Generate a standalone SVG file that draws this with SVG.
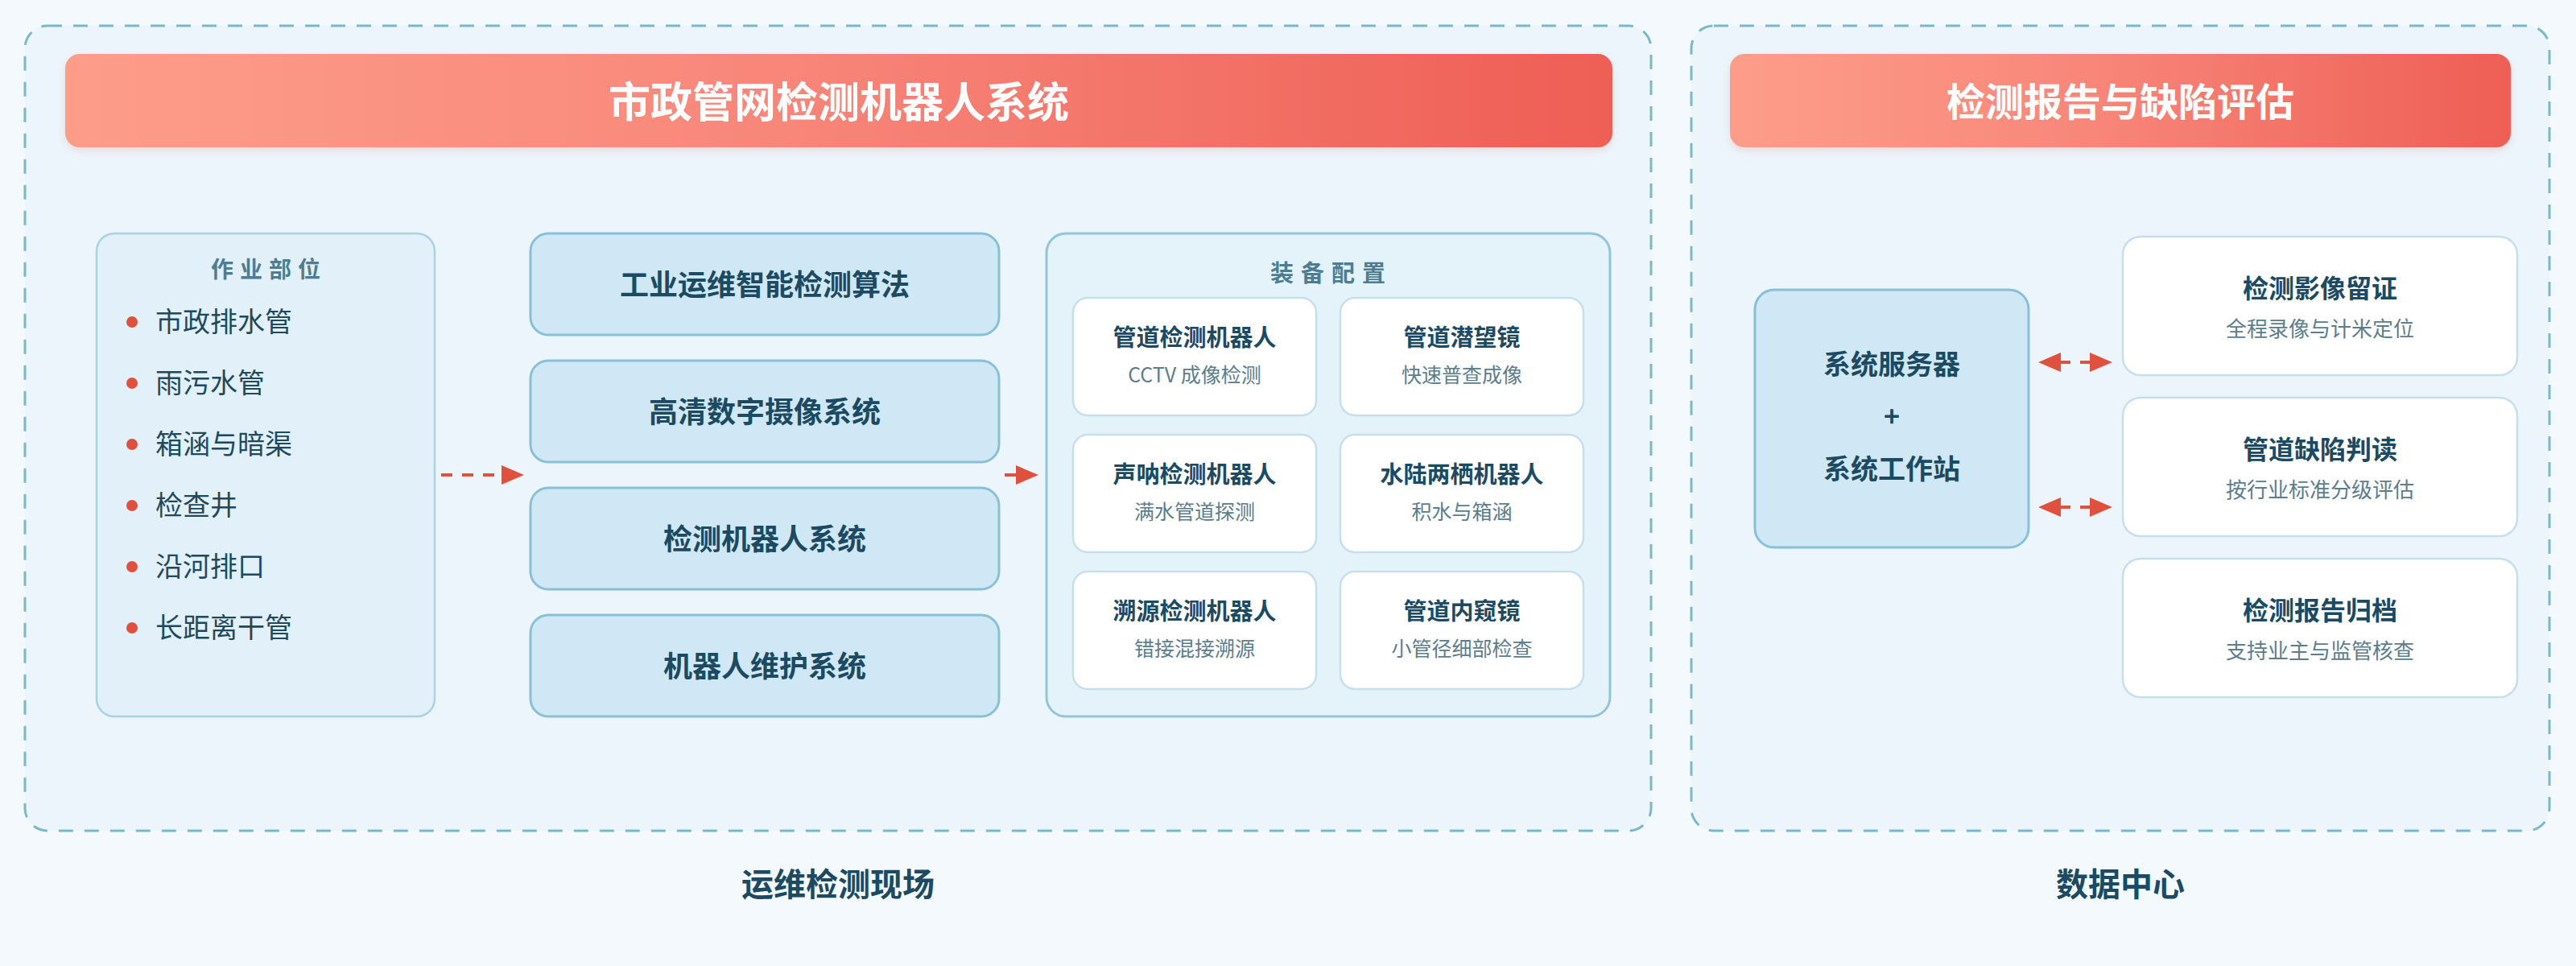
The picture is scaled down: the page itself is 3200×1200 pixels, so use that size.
<svg xmlns="http://www.w3.org/2000/svg" width="3200" height="1200" viewBox="0 0 3200 1200">
  <defs>
    <linearGradient id="bannerGrad" x1="0" y1="0" x2="1" y2="0">
      <stop offset="0" stop-color="#fd9d89"/>
      <stop offset="0.45" stop-color="#f8877a"/>
      <stop offset="1" stop-color="#ee5e55"/>
    </linearGradient>
    <filter id="softShadow" x="-5%" y="-20%" width="110%" height="150%">
      <feDropShadow dx="0" dy="4" stdDeviation="4" flood-color="#d06050" flood-opacity="0.18"/>
    </filter>
    <marker id="arrowHead" viewBox="0 0 28 24" markerWidth="28" markerHeight="24" refX="22" refY="12" orient="auto-start-reverse" markerUnits="userSpaceOnUse">
      <path d="M0,0 L28,12 L0,24 z" fill="#e0503f"/>
    </marker>
    <style>
      text { font-family: "Noto Sans CJK SC", "Noto Sans", sans-serif; }
      .container { fill: #ecf5fb; stroke: #7bb8c8; stroke-width: 3; stroke-dasharray: 18 14; }
      .banner { fill: url(#bannerGrad); filter: url(#softShadow); }
      .bannerText { fill: #ffffff; font-weight: 700; text-anchor: middle; dominant-baseline: central; }
      .panel { fill: #e2f0fa; stroke: #a9d2e3; stroke-width: 2.5; }
      .equipPanel { fill: #e4f2fa; stroke: #92c5d9; stroke-width: 3; }
      .sysBox { fill: #d0e8f6; stroke: #88c0d8; stroke-width: 3; }
      .card { fill: #ffffff; stroke: #c6dfeb; stroke-width: 2.5; }
      .heading { fill: #4d7d92; font-weight: 700; text-anchor: middle; dominant-baseline: central; }
      .boldText { fill: #1b4a62; font-weight: 700; text-anchor: middle; dominant-baseline: central; }
      .subText { fill: #5b7d8c; font-weight: 400; text-anchor: middle; dominant-baseline: central; }
      .itemText { fill: #1e4a60; font-weight: 400; dominant-baseline: central; font-size: 34px; }
      .bullet { fill: #e0503f; }
      .conn { stroke: #e0503f; stroke-width: 4; fill: none; marker-end: url(#arrowHead); }
      .label { fill: #1b4a62; font-weight: 700; text-anchor: middle; dominant-baseline: central; font-size: 40px; }
    </style>
  </defs>

  <rect x="0" y="0" width="3200" height="1200" fill="#f3f9fc"/>

  <!-- Containers -->
  <g id="site-container">
    <rect class="container" x="31" y="32" width="2020" height="1000" rx="28"/>
    <rect class="banner" x="81" y="67" width="1922" height="116" rx="18"/>
    <text class="bannerText" x="1042" y="123" font-size="52">市政管网检测机器人系统</text>
    <text class="label" x="1041" y="1096">运维检测现场</text>
  </g>

  <g id="data-container">
    <rect class="container" x="2101" y="32" width="1066" height="1000" rx="28"/>
    <rect class="banner" x="2149" y="67" width="970" height="116" rx="18"/>
    <text class="bannerText" x="2634" y="123" font-size="48">检测报告与缺陷评估</text>
    <text class="label" x="2634" y="1096">数据中心</text>
  </g>

  <!-- Work locations -->
  <g id="work-locations">
    <rect class="panel" x="120" y="290" width="420" height="600" rx="22"/>
    <text class="heading" x="334" y="333" font-size="28" letter-spacing="8">作业部位</text>
    <circle class="bullet" cx="164" cy="400" r="7"/>
    <text class="itemText" x="193" y="397">市政排水管</text>
    <circle class="bullet" cx="164" cy="476" r="7"/>
    <text class="itemText" x="193" y="473">雨污水管</text>
    <circle class="bullet" cx="164" cy="552" r="7"/>
    <text class="itemText" x="193" y="549">箱涵与暗渠</text>
    <circle class="bullet" cx="164" cy="628" r="7"/>
    <text class="itemText" x="193" y="625">检查井</text>
    <circle class="bullet" cx="164" cy="704" r="7"/>
    <text class="itemText" x="193" y="701">沿河排口</text>
    <circle class="bullet" cx="164" cy="780" r="7"/>
    <text class="itemText" x="193" y="777">长距离干管</text>
  </g>

  <!-- System modules -->
  <g id="module-algorithm">
    <rect class="sysBox" x="659" y="290" width="582" height="126" rx="22"/>
    <text class="boldText" x="950" y="351" font-size="36">工业运维智能检测算法</text>
  </g>
  <g id="module-camera">
    <rect class="sysBox" x="659" y="448" width="582" height="126" rx="22"/>
    <text class="boldText" x="950" y="509" font-size="36">高清数字摄像系统</text>
  </g>
  <g id="module-robot">
    <rect class="sysBox" x="659" y="606" width="582" height="126" rx="22"/>
    <text class="boldText" x="950" y="667" font-size="36">检测机器人系统</text>
  </g>
  <g id="module-maintenance">
    <rect class="sysBox" x="659" y="764" width="582" height="126" rx="22"/>
    <text class="boldText" x="950" y="825" font-size="36">机器人维护系统</text>
  </g>

  <!-- Equipment -->
  <g id="equipment">
    <rect class="equipPanel" x="1300" y="290" width="700" height="600" rx="24"/>
    <text class="heading" x="1654" y="337" font-size="29" letter-spacing="9">装备配置</text>
  </g>
  <g id="equip-cctv">
    <rect class="card" x="1333" y="370" width="302" height="146" rx="18"/>
    <text class="boldText" x="1484" y="417" font-size="29">管道检测机器人</text>
    <text class="subText" x="1484" y="464" font-size="25">CCTV 成像检测</text>
  </g>
  <g id="equip-periscope">
    <rect class="card" x="1665" y="370" width="302" height="146" rx="18"/>
    <text class="boldText" x="1816" y="417" font-size="29">管道潜望镜</text>
    <text class="subText" x="1816" y="464" font-size="25">快速普查成像</text>
  </g>
  <g id="equip-sonar">
    <rect class="card" x="1333" y="540" width="302" height="146" rx="18"/>
    <text class="boldText" x="1484" y="587" font-size="29">声呐检测机器人</text>
    <text class="subText" x="1484" y="634" font-size="25">满水管道探测</text>
  </g>
  <g id="equip-amphibious">
    <rect class="card" x="1665" y="540" width="302" height="146" rx="18"/>
    <text class="boldText" x="1816" y="587" font-size="29">水陆两栖机器人</text>
    <text class="subText" x="1816" y="634" font-size="25">积水与箱涵</text>
  </g>
  <g id="equip-tracing">
    <rect class="card" x="1333" y="710" width="302" height="146" rx="18"/>
    <text class="boldText" x="1484" y="757" font-size="29">溯源检测机器人</text>
    <text class="subText" x="1484" y="804" font-size="25">错接混接溯源</text>
  </g>
  <g id="equip-endoscope">
    <rect class="card" x="1665" y="710" width="302" height="146" rx="18"/>
    <text class="boldText" x="1816" y="757" font-size="29">管道内窥镜</text>
    <text class="subText" x="1816" y="804" font-size="25">小管径细部检查</text>
  </g>

  <!-- Server -->
  <g id="server">
    <rect class="sysBox" x="2180" y="360" width="340" height="320" rx="24"/>
    <text class="boldText" x="2350" y="450" font-size="34">系统服务器</text>
    <text class="boldText" x="2350" y="515" font-size="34">+</text>
    <text class="boldText" x="2350" y="580" font-size="34">系统工作站</text>
  </g>

  <!-- Results -->
  <g id="result-video">
    <rect class="card" x="2637" y="294" width="490" height="172" rx="22"/>
    <text class="boldText" x="2882" y="356" font-size="32">检测影像留证</text>
    <text class="subText" x="2882" y="406" font-size="26">全程录像与计米定位</text>
  </g>
  <g id="result-defect">
    <rect class="card" x="2637" y="494" width="490" height="172" rx="22"/>
    <text class="boldText" x="2882" y="556" font-size="32">管道缺陷判读</text>
    <text class="subText" x="2882" y="606" font-size="26">按行业标准分级评估</text>
  </g>
  <g id="result-report">
    <rect class="card" x="2637" y="694" width="490" height="172" rx="22"/>
    <text class="boldText" x="2882" y="756" font-size="32">检测报告归档</text>
    <text class="subText" x="2882" y="806" font-size="26">支持业主与监管核查</text>
  </g>

  <!-- Connectors -->
  <g id="connectors">
    <line class="conn" x1="548" y1="590" x2="645" y2="590" stroke-dasharray="14 12"/>
    <line class="conn" x1="1248" y1="590" x2="1284" y2="590" stroke-dasharray="14 12"/>
    <line class="conn" x1="2538" y1="450" x2="2618" y2="450" stroke-dasharray="34 12" marker-start="url(#arrowHead)"/>
    <line class="conn" x1="2538" y1="630" x2="2618" y2="630" stroke-dasharray="34 12" marker-start="url(#arrowHead)"/>
  </g>
</svg>
